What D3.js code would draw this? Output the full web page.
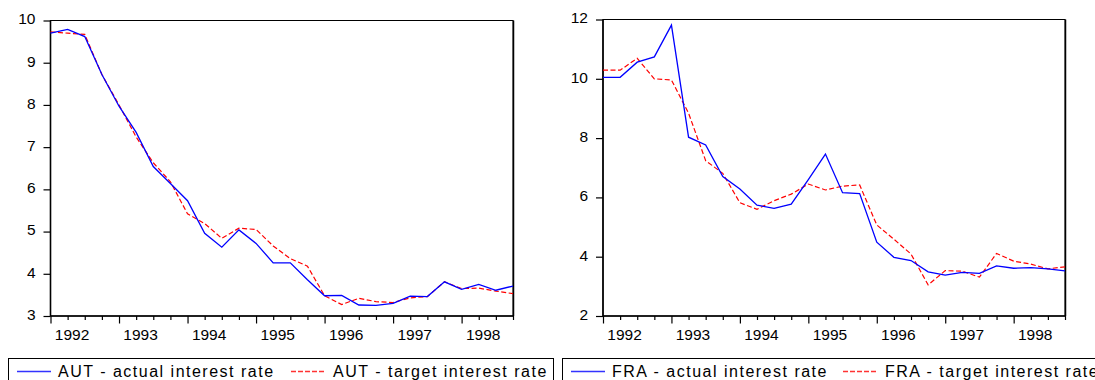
<!DOCTYPE html>
<html>
<head>
<meta charset="utf-8">
<script src="https://cdn.jsdelivr.net/npm/d3@7"></script>
<style>
  html, body { margin: 0; padding: 0; background: #fff; }
  svg { display: block; }
  text { font-family: "Liberation Sans", Arial, sans-serif; fill: #000; }
</style>
</head>
<body>
<svg id="chart" width="1095" height="380"></svg>
<script>
// Quarterly observations 1992Q1 .. 1998Q4
const years = ["1992", "1993", "1994", "1995", "1996", "1997", "1998"];
const quarters = d3.range(28);

const autActual = [9.70, 9.79, 9.62, 8.72, 7.97, 7.35, 6.54, 6.14, 5.73, 4.96, 4.63, 5.04, 4.72, 4.26,
                   4.26, 3.86, 3.48, 3.49, 3.26, 3.25, 3.30, 3.47, 3.46, 3.81, 3.63, 3.75, 3.61, 3.71];
const autTarget = [9.73, 9.70, 9.67, 8.72, 8.00, 7.24, 6.63, 6.18, 5.42, 5.19, 4.84, 5.08, 5.05, 4.66,
                   4.36, 4.18, 3.48, 3.27, 3.42, 3.34, 3.32, 3.43, 3.46, 3.81, 3.65, 3.66, 3.59, 3.53];
const fraActual = [10.05, 10.05, 10.56, 10.74, 11.81, 8.03, 7.77, 6.70, 6.28, 5.74, 5.63, 5.77, 6.60, 7.46,
                   6.16, 6.13, 4.49, 3.98, 3.87, 3.49, 3.38, 3.47, 3.44, 3.69, 3.61, 3.63, 3.59, 3.52];
const fraTarget = [10.29, 10.29, 10.69, 10.00, 9.96, 8.84, 7.24, 6.81, 5.82, 5.60, 5.89, 6.11, 6.45, 6.25,
                   6.38, 6.42, 5.07, 4.59, 4.09, 3.05, 3.53, 3.51, 3.31, 4.11, 3.85, 3.75, 3.59, 3.66];

const autTicks = [3, 4, 5, 6, 7, 8, 9, 10];
const fraTicks = [2, 4, 6, 8, 10, 12];

const svg = d3.select("#chart");

function panel(cfg) {
  const x = d3.scaleLinear().domain([0, 27]).range([cfg.x0, cfg.x1]);
  const y = d3.scaleLinear().domain(cfg.domain).range([cfg.yBot, cfg.yTop]);
  const g = svg.append("g");

  // frame
  g.append("rect")
    .attr("x", cfg.x0).attr("y", cfg.yTop)
    .attr("width", cfg.x1 - cfg.x0).attr("height", cfg.yBot - cfg.yTop)
    .attr("fill", "none").attr("stroke", "#000").attr("stroke-width", 1);
  g.append("line")
    .attr("x1", cfg.x1 + 0.5).attr("x2", cfg.x1 + 0.5)
    .attr("y1", cfg.yTop).attr("y2", cfg.yBot)
    .attr("stroke", "#000").attr("stroke-width", 1.5);

  // y axis
  const ya = g.append("g").attr("transform", `translate(${cfg.x0},0)`)
    .call(d3.axisLeft(y).tickValues(cfg.ticks).tickSize(7).tickPadding(8).tickFormat(d3.format("d")));
  ya.select(".domain").remove();
  ya.selectAll(".tick line").attr("stroke", "#000").attr("stroke-width", 1.2);
  ya.selectAll(".tick text")
    .attr("font-size", 15.5).attr("font-family", "Liberation Sans, Arial, sans-serif")
    .attr("dy", "0.22em").attr("fill", "#000");

  // x axis ticks
  const xa = g.append("g").attr("transform", `translate(0,${cfg.yBot})`)
    .call(d3.axisBottom(x).tickValues(quarters).tickSize(4).tickFormat(""));
  xa.select(".domain").remove();
  xa.selectAll(".tick line")
    .attr("stroke", "#000").attr("stroke-width", 1.2)
    .attr("y2", d => (d % 4 === 0 ? 7.5 : 4));

  // year labels
  g.selectAll("text.year").data(years).enter().append("text")
    .attr("class", "year")
    .attr("x", (d, i) => x(i * 4) + (x(1) - x(0)) * 1.26)
    .attr("y", cfg.yBot + 23.5)
    .attr("text-anchor", "middle")
    .attr("font-size", 15.5)
    .text(d => d);

  // axis lines
  g.append("line").attr("x1", cfg.x0).attr("x2", cfg.x0).attr("y1", cfg.yTop).attr("y2", cfg.yBot)
    .attr("stroke", "#000").attr("stroke-width", 1.6);
  g.append("line").attr("x1", cfg.x0).attr("x2", cfg.x1).attr("y1", cfg.yBot).attr("y2", cfg.yBot)
    .attr("stroke", "#000").attr("stroke-width", 1.6);

  const line = d3.line().x((d, i) => x(i)).y(d => y(d));
  g.append("path").datum(cfg.target).attr("d", line)
    .attr("fill", "none").attr("stroke", "#ff0000").attr("stroke-width", 1.2)
    .attr("stroke-dasharray", "5,2.5");
  g.append("path").datum(cfg.actual).attr("d", line)
    .attr("fill", "none").attr("stroke", "#0000ff").attr("stroke-width", 1.3);

  // legend
  const lg = svg.append("g");
  lg.append("rect").attr("x", cfg.lx0 + 0.5).attr("y", 358.5)
    .attr("width", cfg.lx1 - cfg.lx0).attr("height", 40)
    .attr("fill", "none").attr("stroke", "#000").attr("stroke-width", 1);
  const ly = 371.5;
  lg.append("line").attr("x1", cfg.lx0 + 9).attr("x2", cfg.lx0 + 43).attr("y1", ly).attr("y2", ly)
    .attr("stroke", "#3333ff").attr("stroke-width", 1.3);
  lg.append("text").attr("x", cfg.lx0 + 50).attr("y", 377)
    .attr("font-size", 16).attr("letter-spacing", 1.5)
    .text(cfg.name + " - actual interest rate");
  lg.append("line").attr("x1", cfg.lx0 + cfg.redOff).attr("x2", cfg.lx0 + cfg.redOff + 34).attr("y1", ly).attr("y2", ly)
    .attr("stroke", "#ff3333").attr("stroke-width", 1.3).attr("stroke-dasharray", "5,2");
  lg.append("text").attr("x", cfg.lx0 + cfg.redOff + 42).attr("y", 377)
    .attr("font-size", 16).attr("letter-spacing", 1.5)
    .text(cfg.name + " - target interest rate");
}

panel({
  name: "AUT", x0: 50.5, x1: 513, yTop: 20.5, yBot: 316, domain: [3, 10], ticks: autTicks,
  actual: autActual, target: autTarget, lx0: 8, lx1: 553, redOff: 283
});
panel({
  name: "FRA", x0: 603, x1: 1065, yTop: 19.5, yBot: 316, domain: [2, 12], ticks: fraTicks,
  actual: fraActual, target: fraTarget, lx0: 562, lx1: 1120, redOff: 281
});
</script>
</body>
</html>
